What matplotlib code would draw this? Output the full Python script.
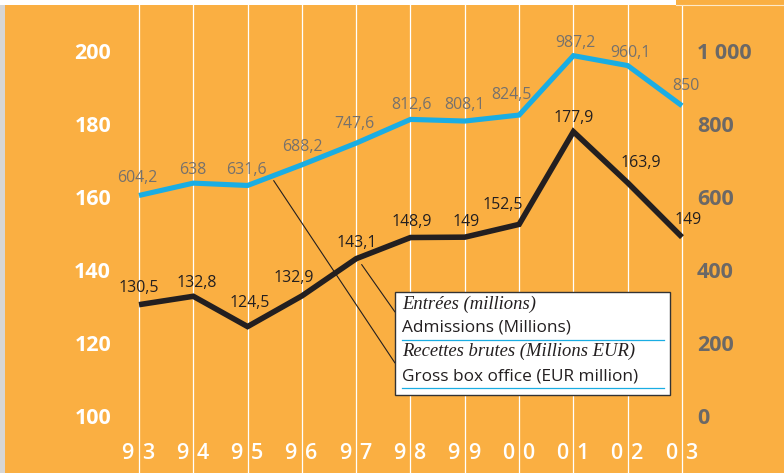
#!/usr/bin/env python3
"""
Cinema admissions and gross box office, 1993-2003.
Output: out.png (784x473)
"""
import matplotlib
matplotlib.use("Agg")
import matplotlib.pyplot as plt
import matplotlib.patches as mpatches
from matplotlib.lines import Line2D
from matplotlib.transforms import blended_transform_factory

YEARS     = ["93", "94", "95", "96", "97", "98", "99", "00", "01", "02", "03"]
ADMISSIONS = [130.5, 132.8, 124.5, 132.9, 143.1, 148.9, 149.0, 152.5, 177.9, 163.9, 149.0]
BOX_OFFICE = [604.2, 638.0, 631.6, 688.2, 747.6, 812.6, 808.1, 824.5, 987.2, 960.1, 850.0]
ADM_LABELS = ["130,5", "132,8", "124,5", "132,9", "143,1", "148,9", "149", "152,5",
              "177,9", "163,9", "149"]
BOX_LABELS = ["604,2", "638", "631,6", "688,2", "747,6", "812,6", "808,1", "824,5",
              "987,2", "960,1", "850"]
LEFT_TICKS  = [100, 120, 140, 160, 180, 200]
RIGHT_TICKS = [0, 200, 400, 600, 800, 1000]
RIGHT_TICK_LABELS = ["0", "200", "400", "600", "800", "1 000"]
LEGEND_LINES = [
    ("Entrées (millions)", "fr"),
    ("Admissions (Millions)", "en"),
    ("Recettes brutes (Millions EUR)", "fr"),
    ("Gross box office (EUR million)", "en"),
]

# label nudges in pixels (dx, dy) -- hand placed like the original
ADM_OFF = [(0, 17), (3, 13), (2, 24), (-8, 18), (1, 16), (1, 16), (1, 15),
           (-16, 19), (0, 14), (13, 20), (6, 17)]
BOX_OFF = [(-2, 17), (0, 13), (-1, 15), (0, 18), (-2, 19), (1, 14), (0, 16),
           (-8, 20), (2, 13), (3, 13), (4, 20)]

ORANGE = "#FAAF42"
BLUE   = "#1AADE3"
BLACK  = "#231F20"
GREY   = "#6B6866"
LABEL_GREY = "#76716C"

W, H = 784, 473
SANS = "Open Sans"


def px(x, y):
    """pixel (top-left origin) -> figure fraction"""
    return x / W, 1 - y / H


def main():
    fig = plt.figure(figsize=(W / 100, H / 100), dpi=100, facecolor=ORANGE)
    ax = fig.add_axes([0, 0, 1, 468 / H])
    ax2 = ax.twinx()
    # ax (left scale) on top so its labels and black line sit above;
    # grid and background live on ax2
    ax.set_zorder(ax2.get_zorder() + 1)
    ax.patch.set_visible(False)
    ax2.patch.set_facecolor(ORANGE)
    for a in (ax, ax2):
        for s in a.spines.values():
            s.set_visible(False)

    x = list(range(len(YEARS)))
    ax.set_xlim(-139 / 54.3, (W - 139) / 54.3)
    ax.set_ylim(100 - 57 / 3.65, 100 + 411 / 3.65)
    lo, hi = ax.get_ylim()
    ax2.set_ylim((lo - 100) * 10, (hi - 100) * 10)

    ax.set_xticks(x)
    ax.set_xticklabels([])
    ax.tick_params(axis="x", length=0)
    ax2.xaxis.set_visible(True)
    ax2.tick_params(axis="x", length=0, labelbottom=False)
    ax2.grid(axis="x", color="white", linewidth=0.9)
    ax2.set_axisbelow(True)

    ax.set_yticks(LEFT_TICKS)
    ax.set_yticklabels([str(t) for t in LEFT_TICKS])
    ax.tick_params(axis="y", length=0, pad=-80, labelsize=15.5,
                   labelcolor="white")
    for lab in ax.get_yticklabels():
        lab.set_fontweight("bold")
        lab.set_family(SANS)

    ax2.set_yticks(RIGHT_TICKS)
    ax2.set_yticklabels(RIGHT_TICK_LABELS)
    ax2.tick_params(axis="y", length=0, pad=-62.6, labelsize=15.5,
                    labelcolor=GREY)
    for lab in ax2.get_yticklabels():
        lab.set_fontweight("bold")
        lab.set_family(SANS)
        lab.set_horizontalalignment("left")

    # lines
    ax2.plot(x, BOX_OFFICE, color=BLUE, lw=3.7, solid_joinstyle="miter",
             solid_capstyle="butt", zorder=3)
    ax.plot(x, ADMISSIONS, color=BLACK, lw=4.0, solid_joinstyle="miter",
            solid_capstyle="butt", zorder=3)

    # value labels
    for i, (v, t) in enumerate(zip(BOX_OFFICE, BOX_LABELS)):
        ax2.annotate(t, (i, v), xytext=BOX_OFF[i], textcoords="offset pixels",
                     ha="center", va="center", color=LABEL_GREY,
                     fontsize=11.4, family=SANS, zorder=4)
    for i, (v, t) in enumerate(zip(ADMISSIONS, ADM_LABELS)):
        ax.annotate(t, (i, v), xytext=ADM_OFF[i], textcoords="offset pixels",
                    ha="center", va="center", color=BLACK,
                    fontsize=11.4, family=SANS, zorder=4)

    # year labels, split around the grid line
    trans = blended_transform_factory(ax.transData, ax.transAxes)
    for i, yr in enumerate(YEARS):
        ax.annotate(yr[0], (i, 20 / 468), xycoords=trans, xytext=(-5, 0),
                    textcoords="offset pixels", ha="right", va="center",
                    color="white", fontsize=15.5, fontweight="semibold",
                    family=SANS)
        ax.annotate(yr[1], (i, 20 / 468), xycoords=trans, xytext=(3, 0),
                    textcoords="offset pixels", ha="left", va="center",
                    color="white", fontsize=15.5, fontweight="semibold",
                    family=SANS)

    # leader lines to the legend box
    ax2.annotate("", xy=(2.48, 645), xytext=(395, H - 363),
                 textcoords="figure pixels",
                 arrowprops=dict(arrowstyle="-", color=BLACK, lw=0.8,
                                 shrinkA=0, shrinkB=0))
    ax.annotate("", xy=(4.1, 141.5), xytext=(395, H - 312),
                textcoords="figure pixels",
                arrowprops=dict(arrowstyle="-", color=BLACK, lw=0.8,
                                shrinkA=0, shrinkB=0))

    # legend box
    x0, y0 = px(395, 395)
    x1, y1 = px(670, 292)
    fig.patches.append(mpatches.Rectangle(
        (x0, y0), x1 - x0, y1 - y0, transform=fig.transFigure,
        facecolor="white", edgecolor="#333333", linewidth=1.0, zorder=5))
    rows_y = [304, 328, 351, 376]
    for (txt, lang), ty in zip(LEGEND_LINES, rows_y):
        if lang == "fr":
            fig.text(*px(402, ty), txt, ha="left", va="center", fontsize=13.4,
                     family="Liberation Serif", style="italic", color=BLACK,
                     zorder=6)
        else:
            fig.text(*px(402, ty), txt, ha="left", va="center", fontsize=12.4,
                     family=SANS, color=BLACK, zorder=6)
    for uy in (340, 388):
        xa, ya = px(402, uy)
        xb, _ = px(664, uy)
        fig.lines.append(Line2D([xa, xb], [ya, ya], transform=fig.transFigure,
                                color=BLUE, lw=0.9, zorder=6))

    # frame: white strip on top, grey shadow on the left
    fig.patches.append(mpatches.Rectangle(px(0, 5), 676 / W, 5 / H,
                       transform=fig.transFigure, facecolor="white",
                       edgecolor="none", zorder=4))
    fig.lines.append(Line2D([676 / W, 1], [1 - 5 / H] * 2,
                            transform=fig.transFigure, color="#FDE9C8",
                            lw=0.8, zorder=4))
    fig.patches.append(mpatches.Rectangle((0, 0), 5 / W, 1 - 5 / H,
                       transform=fig.transFigure, facecolor="#D6D6D6",
                       edgecolor="none", zorder=4))

    fig.savefig("out.png", dpi=100, facecolor=ORANGE)


if __name__ == "__main__":
    main()
